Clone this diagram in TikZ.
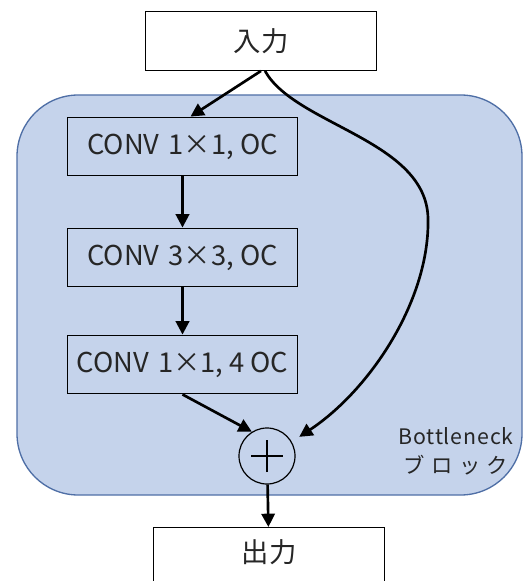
\documentclass[tikz,border=0pt]{standalone}
\usepackage{fontspec}
\setmainfont{Noto Sans CJK JP}
\usetikzlibrary{arrows.meta,calc}
\definecolor{blockfill}{HTML}{C5D3EB}
\definecolor{blockline}{HTML}{4F6FA6}
\definecolor{txt}{HTML}{262626}
\begin{document}
\begin{tikzpicture}[x=0.75pt,y=-0.75pt,
  box/.style={draw=black,line width=0.9pt,minimum width=173pt,minimum height=44pt,
    inner sep=0pt,text=txt,font=\fontsize{20.5}{24}\selectfont},
  conv/.style={box,fill=blockfill},
  arr/.style={line width=2pt,-{Triangle[length=10pt,width=10pt]}},
  sumnode/.style={circle,draw=black,line width=0.9pt,minimum size=42pt,inner sep=0pt}]
\useasboundingbox (0,0) rectangle (523,581);
% bottleneck block background
\draw[fill=blockfill,draw=blockline,line width=1pt,rounded corners=46pt]
  (17,95) rectangle (522,495);
\node[txt,align=center,font=\fontsize{16}{22}\selectfont] (lbl) at (456,451)
  {{\addfontfeatures{LetterSpace=4}Bottleneck}\\{\addfontfeatures{LetterSpace=30}ブロック}};
% nodes
\node[box,fill=white] (in) at (261,41) {入力};
\node[conv] (c1) at (182.5,146.5) {CONV\,\,1×1, OC};
\node[conv] (c2) at (182.5,257.5) {CONV\,\,3×3, OC};
\node[conv] (c3) at (182.5,364.5) {CONV\,\,1×1, 4 OC};
\node[sumnode] (p) at (267,456) {};
\draw[line width=1.4pt] ($(p.center)+(-12pt,0)$) -- ($(p.center)+(12pt,0)$);
\draw[line width=1.4pt] ($(p.center)+(0,-12pt)$) -- ($(p.center)+(0,12pt)$);
\node[box,fill=white,anchor=north] (out) at (269,527) {};
\node[txt,font=\fontsize{20.5}{24}\selectfont] (outlbl) at (269,552) {出力};
% connectors
\draw[arr] (in.south) -- ([xshift=6pt]c1.north);
\draw[arr] (c1) -- (c2);
\draw[arr] (c2) -- (c3);
\draw[arr] (c3.south) -- (p.122);
\draw[arr] ([xshift=3pt]in.south) .. controls (295,125) and (426,140) .. (428,218)
  .. controls (430,300) and (370,390) .. ([xshift=6pt,yshift=3pt]p.32);
\draw[arr] (p) -- (out);
\end{tikzpicture}
\end{document}
